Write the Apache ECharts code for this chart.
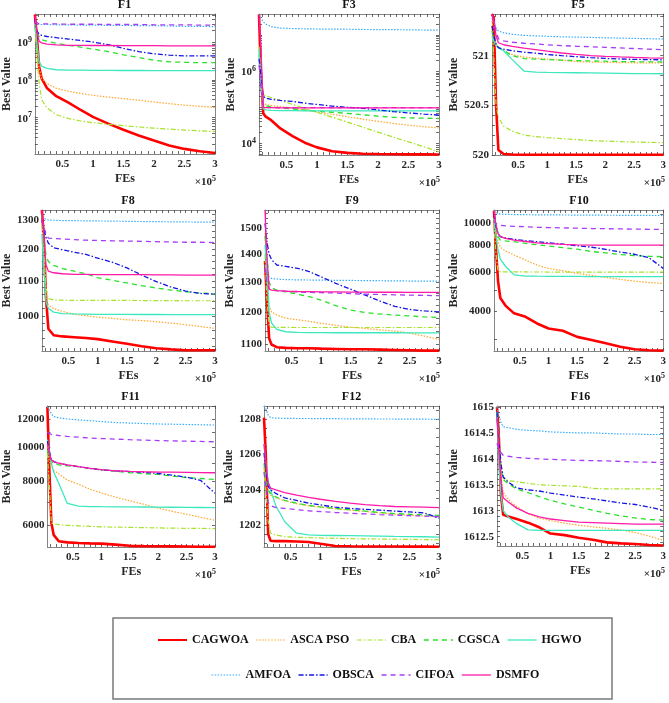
<!DOCTYPE html>
<html><head><meta charset="utf-8">
<script src="https://cdn.jsdelivr.net/npm/echarts@6/dist/echarts.min.js"></script>
<style>html,body{margin:0;padding:0;background:#fff}#c{width:669px;height:703px}</style>
</head><body><div id="c"></div>
<script>
// ---------------- DATA ----------------
const FEs = [5000, 8000, 12000, 16000, 25000, 40000, 60000, 80000, 100000, 125000, 150000, 175000, 200000, 225000, 250000, 275000, 300000];
const seriesNames = ['CAGWOA', 'ASCA PSO', 'CBA', 'CGSCA', 'HGWO', 'AMFOA', 'OBSCA', 'CIFOA', 'DSMFO'];
const xTickLabels = [50000, 100000, 150000, 200000, 250000, 300000];

// each function: one array per algorithm, in seriesNames order
const F1 = [
  [5.3e9, 1.5e9, 2.2e8, 1.1e8, 6e7, 3.7e7, 2.5e7, 1.6e7, 1.05e7, 7e6, 4.8e6, 3.4e6, 2.5e6, 1.85e6, 1.5e6, 1.3e6, 1.17e6],
  [3e9, 8e8, 2e8, 1.1e8, 8e7, 6e7, 5e7, 4.4e7, 3.9e7, 3.5e7, 3.2e7, 2.9e7, 2.6e7, 2.35e7, 2.15e7, 2e7, 1.85e7],
  [2.5e9, 5e8, 8e7, 3e7, 1.8e7, 1.2e7, 9.5e6, 8.2e6, 7.4e6, 6.7e6, 6.2e6, 5.7e6, 5.3e6, 5.0e6, 4.7e6, 4.5e6, 4.3e6],
  [3e9, 1.8e9, 1.4e9, 1.15e9, 1.05e9, 9.3e8, 8.2e8, 7.3e8, 6.5e8, 5.6e8, 4.6e8, 3.9e8, 3.3e8, 3.0e8, 2.9e8, 2.85e8, 2.85e8],
  [3e9, 1e9, 3e8, 2.3e8, 2e8, 1.85e8, 1.8e8, 1.8e8, 1.78e8, 1.78e8, 1.77e8, 1.77e8, 1.76e8, 1.76e8, 1.75e8, 1.75e8, 1.75e8],
  [3.2e9, 3.0e9, 2.95e9, 2.9e9, 2.9e9, 2.85e9, 2.85e9, 2.8e9, 2.8e9, 2.75e9, 2.75e9, 2.7e9, 2.7e9, 2.65e9, 2.6e9, 2.6e9, 2.55e9],
  [4e9, 2e9, 1.6e9, 1.5e9, 1.4e9, 1.3e9, 1.2e9, 1.1e9, 1e9, 8.5e8, 6.8e8, 5.6e8, 4.9e8, 4.5e8, 4.3e8, 4.3e8, 4.3e8],
  [3.5e9, 3.1e9, 3.0e9, 3.0e9, 3.0e9, 3.0e9, 2.95e9, 2.95e9, 2.95e9, 2.9e9, 2.9e9, 2.9e9, 2.85e9, 2.85e9, 2.85e9, 2.8e9, 2.8e9],
  [5e9, 2e9, 1.05e9, 9.5e8, 8.8e8, 8.4e8, 8.2e8, 8.2e8, 8.1e8, 8.1e8, 8e8, 8e8, 8e8, 7.9e8, 7.9e8, 7.9e8, 7.9e8]
];
const F3 = [
  [3.7e7, 1e6, 6.8e4, 5.5e4, 4.4e4, 2.6e4, 1.6e4, 1.05e4, 7.8e3, 6.1e3, 5.5e3, 5.2e3, 5.1e3, 5.05e3, 5.0e3, 4.98e3, 4.95e3],
  [2e6, 6e5, 1.3e5, 1.2e5, 1.12e5, 1.05e5, 9.5e4, 8.4e4, 7.4e4, 6.4e4, 5.5e4, 4.7e4, 4.1e4, 3.6e4, 3.2e4, 2.9e4, 2.7e4],
  [4.7e6, 1e6, 2.2e5, 2.08e5, 1.87e5, 1.55e5, 1.2e5, 9.3e4, 7.2e4, 5.35e4, 3.9e4, 2.83e4, 2.06e4, 1.5e4, 1.11e4, 8.1e3, 5.9e3],
  [3e6, 8e5, 1.2e5, 1.1e5, 1.02e5, 9.6e4, 9.0e4, 8.4e4, 7.8e4, 7.3e4, 6.8e4, 6.2e4, 5.7e4, 5.3e4, 5.1e4, 5.0e4, 4.9e4],
  [4e6, 5e5, 9e4, 8.5e4, 8.2e4, 8.1e4, 8.1e4, 8.0e4, 8.0e4, 8.0e4, 8.0e4, 8.0e4, 8.0e4, 8.0e4, 8.0e4, 8.0e4, 8.0e4],
  [3.7e7, 3e7, 2.3e7, 2e7, 1.7e7, 1.55e7, 1.5e7, 1.48e7, 1.46e7, 1.45e7, 1.44e7, 1.42e7, 1.41e7, 1.4e7, 1.39e7, 1.37e7, 1.36e7],
  [2.2e6, 8e5, 2e5, 1.8e5, 1.65e5, 1.55e5, 1.45e5, 1.3e5, 1.2e5, 1.08e5, 1.0e5, 9.3e4, 8.5e4, 7.6e4, 7e4, 6.5e4, 6.1e4],
  [1.5e6, 4e5, 1.0e5, 9.9e4, 9.8e4, 9.8e4, 9.8e4, 9.8e4, 9.8e4, 9.8e4, 9.8e4, 9.8e4, 9.8e4, 9.8e4, 9.8e4, 9.8e4, 9.8e4],
  [3.7e7, 5e6, 1.0e5, 9.8e4, 9.8e4, 9.7e4, 9.7e4, 9.7e4, 9.7e4, 9.7e4, 9.7e4, 9.7e4, 9.7e4, 9.7e4, 9.7e4, 9.7e4, 9.7e4]
];
const F5 = [
  [521.42, 521.38, 520.5, 520.05, 520.01, 520.005, 520.003, 520.003, 520.003, 520.003, 520.003, 520.003, 520.003, 520.003, 520.003, 520.003, 520.003],
  [521.35, 521.2, 521.12, 521.09, 521.05, 521.01, 520.985, 520.975, 520.966, 520.955, 520.94, 520.936, 520.933, 520.93, 520.928, 520.927, 520.926],
  [521.3, 521.0, 520.5, 520.38, 520.29, 520.24, 520.2, 520.185, 520.175, 520.165, 520.155, 520.145, 520.14, 520.135, 520.13, 520.127, 520.125],
  [521.25, 521.15, 521.1, 521.08, 521.05, 521.0, 520.97, 520.965, 520.96, 520.955, 520.95, 520.947, 520.944, 520.941, 520.939, 520.937, 520.936],
  [521.2, 521.15, 521.1, 521.08, 521.05, 520.96, 520.845, 520.835, 520.832, 520.83, 520.828, 520.826, 520.824, 520.822, 520.82, 520.819, 520.818],
  [521.4, 521.35, 521.28, 521.25, 521.23, 521.215, 521.205, 521.2, 521.195, 521.19, 521.187, 521.184, 521.18, 521.177, 521.174, 521.171, 521.168],
  [521.3, 521.2, 521.12, 521.08, 521.065, 521.05, 521.035, 521.025, 521.012, 521.0, 520.99, 520.98, 520.972, 520.967, 520.963, 520.96, 520.958],
  [521.38, 521.35, 521.25, 521.17, 521.15, 521.135, 521.125, 521.118, 521.11, 521.102, 521.095, 521.09, 521.084, 521.078, 521.072, 521.066, 521.06],
  [521.42, 521.35, 521.2, 521.13, 521.11, 521.094, 521.075, 521.06, 521.045, 521.027, 521.012, 521.0, 520.993, 520.987, 520.982, 520.978, 520.976]
];
const F8 = [
  [1336, 1250, 1050, 965, 948, 945, 943, 941, 938, 932, 926, 920, 915, 912, 910, 910, 910],
  [1300, 1200, 1060, 1030, 1020, 1012, 1004, 1000, 996, 993, 989, 987, 984, 980, 976, 971, 966],
  [1280, 1200, 1080, 1048, 1044, 1043.5, 1043, 1043, 1043, 1043, 1043, 1042.5, 1042.5, 1042.5, 1042, 1042, 1042],
  [1320, 1250, 1180, 1160, 1148, 1138, 1130, 1122, 1110, 1102, 1094, 1086, 1079, 1073, 1068, 1064, 1062],
  [1250, 1150, 1040, 1020, 1010, 1006, 1005, 1004.5, 1004, 1004, 1004, 1003.5, 1003.5, 1003, 1003, 1003, 1003],
  [1310, 1305, 1302, 1300, 1299, 1298, 1297.5, 1297, 1296.5, 1296, 1295, 1294.5, 1294, 1293.5, 1293, 1292.5, 1292],
  [1300, 1270, 1240, 1220, 1205, 1198, 1190, 1183, 1171, 1158, 1140, 1118, 1098, 1082, 1070, 1063, 1061],
  [1300, 1280, 1250, 1237, 1236, 1234, 1232, 1230, 1229, 1228, 1227, 1226, 1225, 1224, 1223, 1223, 1222],
  [1336, 1250, 1150, 1130, 1125, 1122, 1120, 1120, 1119.5, 1119.5, 1119, 1119, 1118.5, 1118.5, 1118, 1118, 1118]
];
const F9 = [
  [1375, 1250, 1118, 1100, 1092, 1090, 1089, 1089, 1088, 1087, 1086, 1086, 1085, 1084, 1083, 1082, 1082],
  [1480, 1350, 1220, 1200, 1190, 1180, 1175, 1170, 1164, 1158, 1152, 1148, 1144, 1140, 1134, 1125, 1115],
  [1400, 1250, 1155, 1152, 1151.5, 1151.5, 1151, 1151, 1151, 1151, 1151, 1151, 1151, 1151, 1151, 1151, 1151],
  [1470, 1400, 1300, 1280, 1272, 1266, 1258, 1250, 1238, 1220, 1206, 1198, 1193, 1190, 1187, 1184, 1182],
  [1435, 1350, 1200, 1165, 1145, 1138, 1136, 1135.5, 1135.5, 1135, 1135, 1135, 1135, 1135, 1134.5, 1134.5, 1134.5],
  [1360, 1330, 1315, 1312, 1310, 1308, 1307, 1306.5, 1306, 1305.5, 1305, 1304.5, 1304, 1303.5, 1303, 1303, 1303],
  [1520, 1450, 1400, 1380, 1360, 1355, 1348, 1336, 1318, 1295, 1275, 1255, 1235, 1218, 1208, 1203, 1200],
  [1350, 1300, 1275, 1272, 1270, 1268, 1266, 1264, 1263, 1262, 1260, 1258, 1257, 1256, 1255, 1254, 1253],
  [1575, 1400, 1275, 1272, 1270, 1268, 1267, 1266.5, 1266, 1265.5, 1265, 1265, 1264.5, 1264.5, 1264, 1264, 1264]
];
const F10 = [
  [11400, 8000, 5500, 4600, 4250, 3920, 3780, 3530, 3350, 3270, 3070, 2970, 2870, 2770, 2700, 2670, 2660],
  [10500, 9500, 8300, 7800, 7500, 7190, 6830, 6480, 6250, 6110, 5940, 5820, 5700, 5580, 5480, 5400, 5350],
  [10000, 7500, 6100, 6040, 6035, 6030, 6030, 6028, 6026, 6025, 6024, 6023, 6022, 6021, 6020, 6020, 6020],
  [10500, 9500, 8700, 8400, 8330, 8260, 8120, 8000, 7900, 7770, 7640, 7460, 7350, 7230, 7150, 7100, 7070],
  [10500, 9000, 7600, 6900, 6400, 5850, 5780, 5770, 5765, 5760, 5755, 5750, 5750, 5745, 5745, 5740, 5740],
  [11400, 11200, 11050, 11000, 10980, 10960, 10940, 10930, 10920, 10910, 10900, 10890, 10880, 10875, 10865, 10855, 10850],
  [11000, 9800, 9000, 8700, 8600, 8460, 8350, 8260, 8160, 8060, 7920, 7800, 7630, 7420, 7250, 7000, 6260],
  [10300, 10000, 9850, 9800, 9750, 9700, 9650, 9600, 9570, 9540, 9510, 9480, 9460, 9440, 9420, 9400, 9390],
  [11400, 10000, 9000, 8700, 8550, 8400, 8280, 8170, 8100, 8040, 8000, 7980, 7975, 7975, 7970, 7970, 7970]
];
const F11 = [
  [13000, 9000, 6100, 5650, 5420, 5380, 5360, 5345, 5335, 5300, 5260, 5250, 5245, 5240, 5235, 5230, 5225],
  [10000, 9200, 8800, 8600, 8400, 8070, 7850, 7600, 7420, 7220, 7050, 6890, 6720, 6580, 6460, 6330, 6210],
  [9600, 8000, 6100, 6070, 6040, 6010, 5990, 5970, 5950, 5940, 5930, 5920, 5910, 5900, 5895, 5890, 5886],
  [9800, 9400, 9100, 9000, 8900, 8850, 8800, 8720, 8630, 8540, 8460, 8410, 8370, 8280, 8200, 8150, 8100],
  [10500, 9800, 9000, 8500, 7900, 6930, 6810, 6790, 6785, 6780, 6775, 6770, 6765, 6760, 6755, 6750, 6745],
  [13000, 12800, 12400, 12200, 12100, 12000, 11930, 11870, 11800, 11730, 11690, 11650, 11620, 11600, 11580, 11560, 11540],
  [10400, 9800, 9200, 9100, 9000, 8900, 8800, 8700, 8620, 8560, 8520, 8480, 8420, 8330, 8220, 8050, 7400],
  [11000, 10900, 10850, 10820, 10780, 10720, 10660, 10610, 10570, 10530, 10490, 10460, 10430, 10410, 10390, 10370, 10350],
  [10200, 9700, 9200, 9100, 9000, 8900, 8800, 8710, 8640, 8570, 8540, 8515, 8500, 8490, 8480, 8470, 8460]
];
const F12 = [
  [1208.1, 1206, 1201.5, 1201.12, 1201.1, 1201.1, 1201.08, 1201.05, 1200.95, 1200.83, 1200.81, 1200.8, 1200.8, 1200.8, 1200.79, 1200.79, 1200.78],
  [1205, 1204.5, 1203.9, 1203.7, 1203.55, 1203.38, 1203.22, 1203.1, 1203.02, 1202.93, 1202.85, 1202.78, 1202.7, 1202.62, 1202.57, 1202.53, 1202.48],
  [1205.3, 1204.0, 1202.2, 1201.55, 1201.45, 1201.35, 1201.32, 1201.3, 1201.28, 1201.26, 1201.24, 1201.23, 1201.22, 1201.21, 1201.2, 1201.19, 1201.18],
  [1205.5, 1204.8, 1204.0, 1203.8, 1203.6, 1203.4, 1203.25, 1203.12, 1203.04, 1202.95, 1202.88, 1202.8, 1202.72, 1202.66, 1202.62, 1202.59, 1202.56],
  [1206.6, 1205.5, 1204.5, 1204.0, 1203.1, 1202.2, 1201.55, 1201.45, 1201.43, 1201.42, 1201.41, 1201.4, 1201.39, 1201.37, 1201.36, 1201.35, 1201.33],
  [1208.76, 1208.6, 1208.25, 1208.1, 1208.07, 1208.06, 1208.05, 1208.05, 1208.04, 1208.04, 1208.03, 1208.03, 1208.02, 1208.02, 1208.01, 1208.01, 1208.0],
  [1206.1, 1205.2, 1204.2, 1204.0, 1203.8, 1203.55, 1203.4, 1203.25, 1203.15, 1203.02, 1202.95, 1202.9, 1202.85, 1202.8, 1202.75, 1202.7, 1202.4],
  [1205, 1204.2, 1203.3, 1203.1, 1203.0, 1202.95, 1202.88, 1202.82, 1202.77, 1202.72, 1202.68, 1202.64, 1202.6, 1202.57, 1202.54, 1202.52, 1202.48],
  [1206.6, 1205.5, 1204.4, 1204.1, 1204.0, 1203.85, 1203.7, 1203.58, 1203.47, 1203.35, 1203.25, 1203.17, 1203.11, 1203.06, 1203.04, 1203.02, 1203.0]
];
const F16 = [
  [1615, 1614.5, 1613.3, 1612.92, 1612.89, 1612.84, 1612.77, 1612.68, 1612.56, 1612.53, 1612.48, 1612.44, 1612.39, 1612.37, 1612.36, 1612.34, 1612.33],
  [1614.9, 1614.3, 1613.7, 1613.35, 1613.22, 1613.08, 1612.94, 1612.86, 1612.81, 1612.76, 1612.72, 1612.69, 1612.66, 1612.63, 1612.58, 1612.51, 1612.43],
  [1614.9, 1614.5, 1613.9, 1613.62, 1613.58, 1613.56, 1613.53, 1613.5, 1613.49, 1613.48, 1613.47, 1613.43, 1613.42, 1613.42, 1613.42, 1613.42, 1613.42],
  [1614.8, 1614.3, 1613.85, 1613.6, 1613.52, 1613.42, 1613.35, 1613.27, 1613.2, 1613.13, 1613.07, 1613.01, 1612.95, 1612.9, 1612.86, 1612.83, 1612.82],
  [1614.9, 1614.0, 1613.3, 1613.0, 1612.88, 1612.75, 1612.63, 1612.62, 1612.62, 1612.62, 1612.62, 1612.62, 1612.62, 1612.62, 1612.62, 1612.62, 1612.62],
  [1615, 1614.85, 1614.7, 1614.62, 1614.6, 1614.57, 1614.55, 1614.54, 1614.52, 1614.51, 1614.5, 1614.5, 1614.49, 1614.48, 1614.48, 1614.47, 1614.47],
  [1614.9, 1614.4, 1613.9, 1613.65, 1613.55, 1613.44, 1613.4, 1613.38, 1613.34, 1613.3, 1613.26, 1613.23, 1613.19, 1613.15, 1613.12, 1613.07, 1613.01],
  [1614.3, 1614.2, 1614.12, 1614.07, 1614.05, 1614.03, 1614.01, 1614.0, 1613.99, 1613.98, 1613.97, 1613.965, 1613.96, 1613.95, 1613.94, 1613.935, 1613.93],
  [1614.8, 1614.2, 1613.6, 1613.25, 1613.17, 1613.05, 1612.95, 1612.88, 1612.84, 1612.81, 1612.78, 1612.77, 1612.76, 1612.75, 1612.74, 1612.74, 1612.74]
];

// y-axis tick labels per panel
const F1_yLabels = [1e7, 1e8, 1e9];
const F3_yLabels = [1e4, 1e6];
const F5_yLabels = [520, 520.5, 521];
const F8_yLabels = [1000, 1100, 1200, 1300];
const F9_yLabels = [1100, 1200, 1300, 1400, 1500];
const F10_yLabels = [4000, 6000, 8000, 10000];
const F11_yLabels = [6000, 8000, 10000, 12000];
const F12_yLabels = [1202, 1204, 1206, 1208];
const F16_yLabels = [1612.5, 1613, 1613.5, 1614, 1614.5, 1615];

// ---------------- LAYOUT / STYLE ----------------
function decadeTicks(lo, hi) { const t = []; for (let e = lo; e <= hi; e++) for (let m = 1; m <= 9; m++) t.push(m * Math.pow(10, e)); return t; }
function stepTicks(a, b, s) { const t = []; for (let v = a; v <= b + 1e-9; v += s) t.push(+v.toFixed(4)); return t; }

const panels = [
  { title: 'F1',  data: F1,  yMin: 1.1e6,   yMax: 5.5e9,   yLabels: F1_yLabels,  yTicks: decadeTicks(6, 9), exp: true, box: [34, 14, 181, 140], gap: 19 },
  { title: 'F3',  data: F3,  yMin: 4.8e3,   yMax: 3.8e7,   yLabels: F3_yLabels,  yTicks: decadeTicks(3, 7), exp: true, box: [259, 14, 180, 141], gap: 22 },
  { title: 'F5',  data: F5,  yMin: 520,     yMax: 521.42,  yLabels: F5_yLabels,  yTicks: stepTicks(520, 521.4, 0.1), box: [492, 14, 172, 141], gap: 30 },
  { title: 'F8',  data: F8,  yMin: 908,     yMax: 1336,    yLabels: F8_yLabels,  yTicks: stepTicks(920, 1320, 20), box: [41, 210, 174, 141], gap: 27 },
  { title: 'F9',  data: F9,  yMin: 1081,    yMax: 1575,    yLabels: F9_yLabels,  yTicks: stepTicks(1100, 1560, 20), box: [265, 210, 174, 141], gap: 27 },
  { title: 'F10', data: F10, yMin: 2650,    yMax: 11490,   yLabels: F10_yLabels, yTicks: stepTicks(3000, 11000, 1000), box: [494, 210, 170, 141], gap: 32 },
  { title: 'F11', data: F11, yMin: 5220,    yMax: 13060,   yLabels: F11_yLabels, yTicks: stepTicks(6000, 13000, 1000), box: [46, 406, 169, 141], gap: 33 },
  { title: 'F12', data: F12, yMin: 1200.77, yMax: 1208.76, yLabels: F12_yLabels, yTicks: stepTicks(1201, 1208.5, 0.5), box: [264, 406, 175, 141], gap: 27 },
  { title: 'F16', data: F16, yMin: 1612.32, yMax: 1615.02, yLabels: F16_yLabels, yTicks: stepTicks(1612.4, 1615, 0.1), box: [497, 406, 167, 140], gap: 36 }
];

const styles = [
  { color: '#FF0000', type: 'solid',        width: 2.6 },
  { color: '#FFA62B', type: [1.5, 1.5],     width: 1.2 },
  { color: '#A8E22A', type: [5, 2, 1.5, 2], width: 1.2 },
  { color: '#2BE02B', type: [5, 4],         width: 1.3 },
  { color: '#3DE8BE', type: 'solid',        width: 1.3 },
  { color: '#35AEFF', type: [1.5, 1.5],     width: 1.2 },
  { color: '#1414E6', type: [5, 2, 1.5, 2], width: 1.3 },
  { color: '#A83CF5', type: [5, 4],         width: 1.3 },
  { color: '#FF1AA8', type: 'solid',        width: 1.3 }
];

const FONT = '"Liberation Serif", "Times New Roman", serif';
const AXIS_LINE = '#858585';
const TXT = '#262626';
const xMinorTicks = stepTicks(10000, 300000, 10000);

const grids = [], xAxes = [], yAxes = [], series = [], graphics = [];

panels.forEach((p, i) => {
  const [l, t, w, h] = p.box;
  grids.push({ left: l, top: t, width: w, height: h, containLabel: false });
  const tickCommon = { show: true, inside: true, length: 3, lineStyle: { color: '#444', width: 0.8 } };
  xAxes.push({
    type: 'value', gridIndex: i, position: 'bottom', min: 5000, max: 300000,
    axisLine: { show: true, lineStyle: { color: AXIS_LINE, width: 1 } },
    axisTick: Object.assign({ customValues: xMinorTicks }, tickCommon),
    axisLabel: { customValues: xTickLabels, margin: 5, color: TXT, fontFamily: FONT, fontWeight: 'bold', fontSize: 11,
      formatter: v => String(Math.round(v / 1e4) / 10) },
    splitLine: { show: false },
    name: 'FEs', nameLocation: 'middle', nameGap: 19,
    nameTextStyle: { color: TXT, fontFamily: FONT, fontWeight: 'bold', fontSize: 12 }
  });
  xAxes.push({
    type: 'value', gridIndex: i, position: 'top', min: 5000, max: 300000,
    axisLine: { show: true, lineStyle: { color: AXIS_LINE, width: 1 } },
    axisTick: Object.assign({ customValues: xMinorTicks }, tickCommon),
    axisLabel: { show: false }, splitLine: { show: false }
  });
  const yLabel = p.exp
    ? { customValues: p.yLabels, margin: 3, color: TXT,
        formatter: v => '{b|10}{s|' + Math.round(Math.log10(v)) + '}',
        rich: { b: { fontFamily: FONT, fontWeight: 'bold', fontSize: 11, color: TXT, lineHeight: 13, verticalAlign: 'bottom' },
                s: { fontFamily: FONT, fontWeight: 'bold', fontSize: 8, color: TXT, lineHeight: 13, verticalAlign: 'top' } } }
    : { customValues: p.yLabels, margin: 3, color: TXT, fontFamily: FONT, fontWeight: 'bold', fontSize: 11,
        formatter: v => String(parseFloat(Number(v).toFixed(2))) };
  yAxes.push({
    type: 'log', logBase: 10, gridIndex: i, position: 'left', min: p.yMin, max: p.yMax,
    axisLine: { show: true, lineStyle: { color: AXIS_LINE, width: 1 } },
    axisTick: Object.assign({ customValues: p.yTicks }, tickCommon),
    axisLabel: yLabel, splitLine: { show: false }, minorTick: { show: false },
    name: 'Best Value', nameLocation: 'middle', nameGap: p.gap,
    nameTextStyle: { color: TXT, fontFamily: FONT, fontWeight: 'bold', fontSize: 12 }
  });
  yAxes.push({
    type: 'log', logBase: 10, gridIndex: i, position: 'right', min: p.yMin, max: p.yMax,
    axisLine: { show: true, lineStyle: { color: AXIS_LINE, width: 1 } },
    axisTick: Object.assign({ customValues: p.yTicks }, tickCommon),
    axisLabel: { show: false }, splitLine: { show: false }
  });

  p.data.forEach((arr, k) => {
    const st = styles[k];
    series.push({
      type: 'line', name: seriesNames[k], xAxisIndex: 2 * i, yAxisIndex: 2 * i,
      data: FEs.map((x, j) => [x, arr[j]]),
      symbol: 'none', showSymbol: false, clip: true, animation: false,
      lineStyle: { color: st.color, type: st.type, width: st.width },
      itemStyle: { color: st.color }, z: 2 + k * 0.01
    });
  });

  graphics.push({ type: 'text', x: l + w / 2, y: t - 9,
    style: { text: p.title, fill: '#111', font: 'bold 12px ' + FONT, textAlign: 'center', textVerticalAlign: 'middle' } });
  graphics.push({ type: 'text', x: l + w + 1, y: t + h + 28,
    style: { text: '×10{s|5}', fill: TXT, font: 'bold 11px ' + FONT, textAlign: 'right', textVerticalAlign: 'middle',
      rich: { s: { font: 'bold 8px ' + FONT, fill: TXT, verticalAlign: 'top', lineHeight: 14 } } } });
});

graphics.push({ type: 'rect', shape: { x: 113, y: 618, width: 499, height: 81 },
  style: { fill: 'none', stroke: '#7a7a7a', lineWidth: 1.5 }, z: -1 });

const legendCommon = {
  itemWidth: 29, itemHeight: 10, itemGap: 7, orient: 'horizontal', selectedMode: false,
  itemStyle: { opacity: 0 },
  textStyle: { fontFamily: FONT, fontWeight: 'bold', fontSize: 12, color: '#111' }
};
function legendItems(names) {
  return names.map(n => { const st = styles[seriesNames.indexOf(n)];
    return { name: n, lineStyle: { width: Math.min(st.width, 2), color: st.color, type: st.type } }; });
}

const chart = echarts.init(document.getElementById('c'), null, { renderer: 'canvas' });
chart.setOption({
  backgroundColor: '#fff',
  animation: false,
  grid: grids, xAxis: xAxes, yAxis: yAxes, series: series,
  legend: [
    Object.assign({ data: legendItems(seriesNames.slice(0, 5)), left: 152, top: 629 }, legendCommon),
    Object.assign({ data: legendItems(seriesNames.slice(5)), left: 206, top: 664 }, legendCommon)
  ],
  graphic: graphics
});
</script>
</body></html>
